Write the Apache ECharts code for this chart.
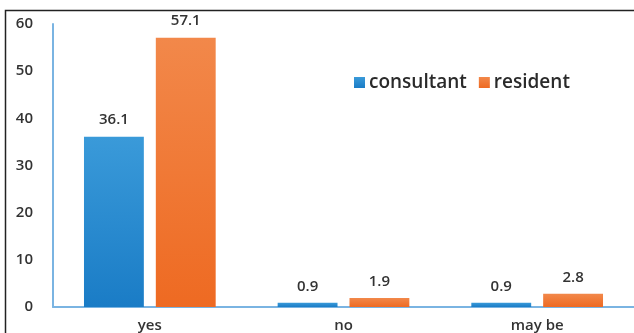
<!DOCTYPE html>
<html>
<head>
<meta charset="utf-8">
<script src="https://cdn.jsdelivr.net/npm/echarts@6/dist/echarts.min.js"></script>
<style>
  html, body { margin: 0; padding: 0; background: #ffffff; }
  #chart { width: 634px; height: 333px; }
</style>
</head>
<body>
<div id="chart"></div>
<script>
// Survey answers, percentage of respondents
const categories = ['yes', 'no', 'may be'];
const consultant = [36.1, 0.9, 0.9];
const resident = [57.1, 1.9, 2.8];
const yTicks = [0, 10, 20, 30, 40, 50, 60];

const FONT = '"Open Sans", "Noto Sans", sans-serif';

function vGrad(top, bottom) {
  return new echarts.graphic.LinearGradient(0, 0, 0, 1, [
    { offset: 0, color: top },
    { offset: 1, color: bottom }
  ]);
}

const chart = echarts.init(document.getElementById('chart'), null, { renderer: 'canvas' });

const labelStyle = {
  show: true,
  position: 'top',
  distance: 9,
  color: '#333333',
  fontFamily: FONT,
  fontSize: 15,
  fontWeight: 600
};

chart.setOption({
  backgroundColor: '#ffffff',
  animation: false,
  grid: { left: 53, right: -8, top: 24, bottom: 23, containLabel: false },
  legend: {
    left: 349,
    top: 68,
    itemWidth: 11,
    itemHeight: 11,
    itemGap: 12,
    icon: 'rect',
    textStyle: { color: '#2a2a2a', fontFamily: FONT, fontSize: 19, fontWeight: 600, padding: [0, 0, 0, -1] },
    data: ['consultant', 'resident']
  },
  xAxis: {
    type: 'category',
    data: categories,
    axisLine: { show: true, lineStyle: { color: '#7ab4e2', width: 2 } },
    axisTick: { show: false },
    axisLabel: { color: '#333333', fontFamily: FONT, fontSize: 15, fontWeight: 600, margin: 11 }
  },
  yAxis: {
    type: 'value',
    min: yTicks[0],
    max: yTicks[yTicks.length - 1],
    interval: 10,
    axisLine: { show: true, lineStyle: { color: '#7ab4e2', width: 2 } },
    axisTick: { show: false },
    splitLine: { show: false },
    axisLabel: { color: '#333333', fontFamily: FONT, fontSize: 15, fontWeight: 600, margin: 20 }
  },
  series: [
    {
      name: 'consultant',
      type: 'bar',
      data: consultant,
      barGap: '20%',
      barCategoryGap: '32%',
      itemStyle: { color: vGrad('#3a9ad9', '#1a7cc6') },
      label: labelStyle
    },
    {
      name: 'resident',
      type: 'bar',
      data: resident,
      itemStyle: { color: vGrad('#f2884a', '#ee6a22') },
      label: labelStyle
    }
  ],
  color: ['#2a8ad0', '#ef7430'],
  graphic: [
    {
      type: 'rect',
      shape: { x: 5.5, y: 10.5, width: 640, height: 340 },
      style: { fill: null, stroke: '#222222', lineWidth: 1.5 },
      silent: true
    }
  ]
});
</script>
</body>
</html>
